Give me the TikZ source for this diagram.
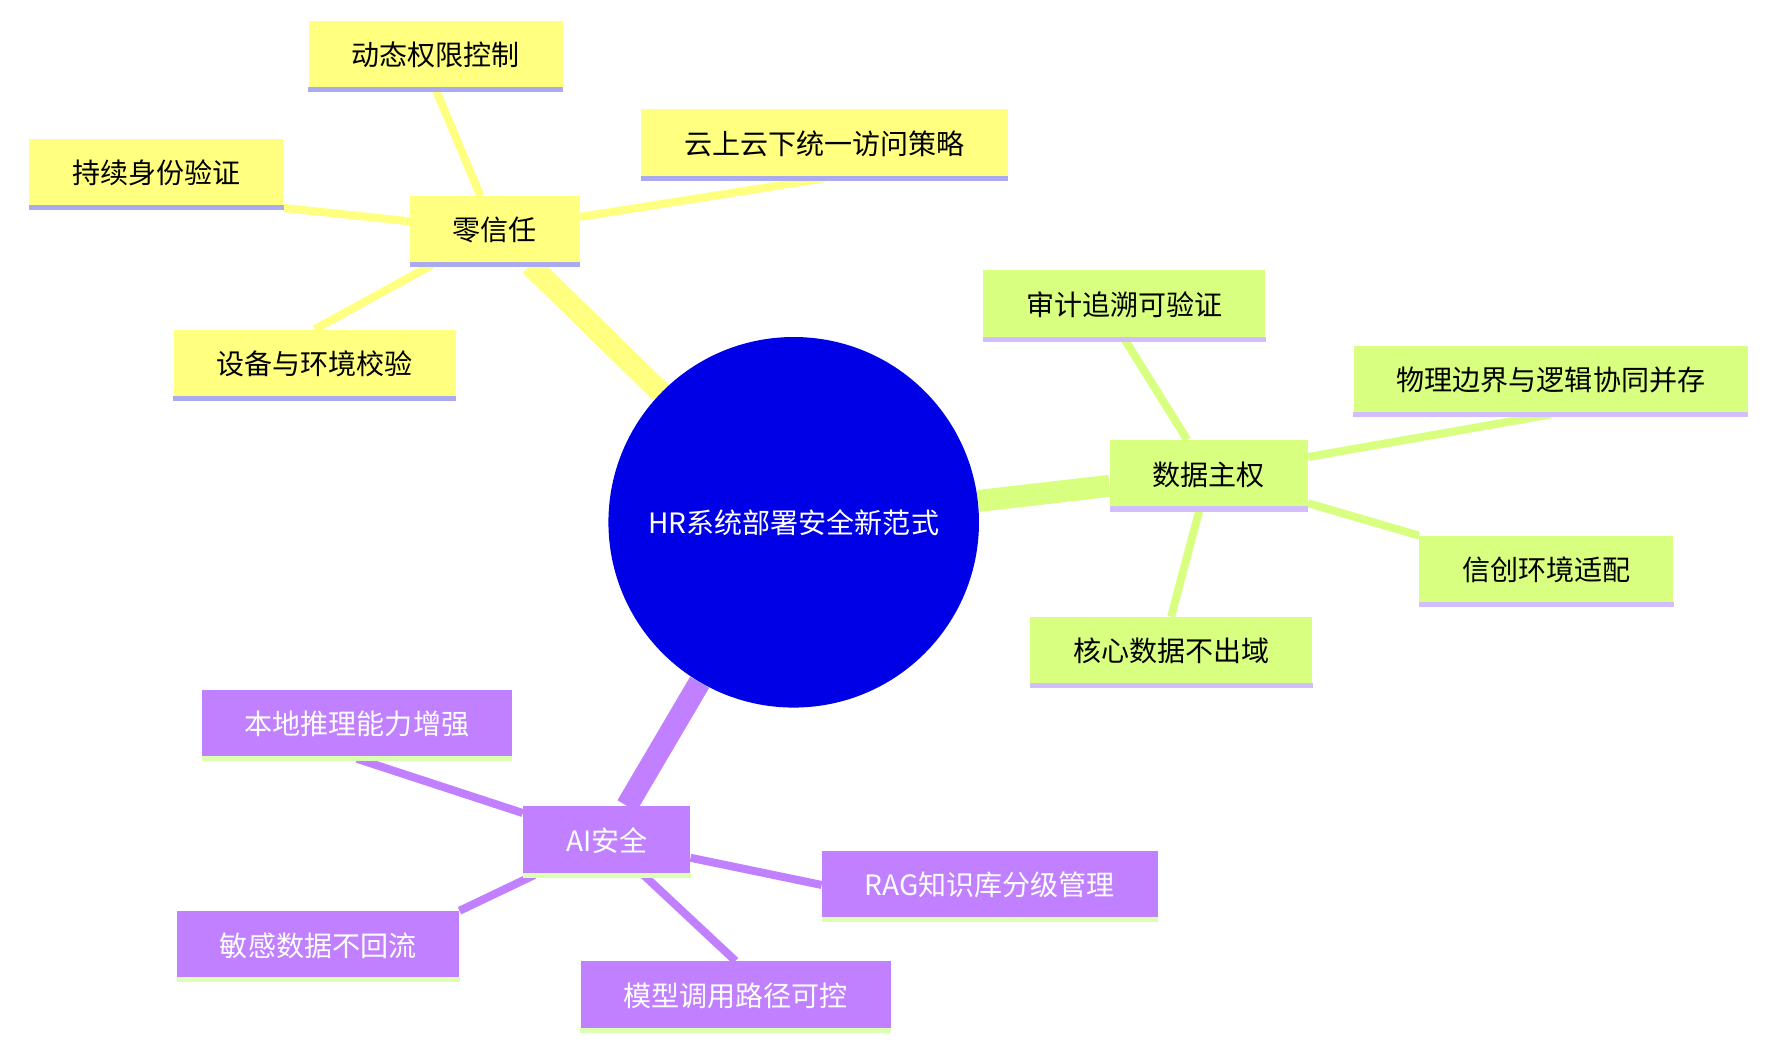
\documentclass[tikz,border=0pt]{standalone}
\usepackage{fontspec}
\setmainfont{Noto Sans CJK SC}
\usetikzlibrary{positioning, backgrounds}
\definecolor{zyellow}{RGB}{255,255,128}
\definecolor{zgreen}{RGB}{217,255,128}
\definecolor{zpurple}{RGB}{192,128,255}
\definecolor{zblue}{RGB}{0,0,230}
\definecolor{lblue}{RGB}{170,170,238}
\definecolor{llav}{RGB}{210,190,255}
\definecolor{lgrn}{RGB}{220,255,180}

\begin{document}
\begin{tikzpicture}[x=0.02cm, y=-0.02cm,
    every node/.style={font=\fontsize{14}{16}\selectfont},
    leaf/.style={rectangle, minimum height=1.2cm, inner xsep=0.75cm},
    yleaf/.style={leaf, fill=zyellow},
    gleaf/.style={leaf, fill=zgreen},
    pleaf/.style={leaf, fill=zpurple, text=white},
    yedge/.style={zyellow, line width=4pt},
    gedge/.style={zgreen, line width=4pt},
    pedge/.style={zpurple, line width=4pt}]
\useasboundingbox (0,0) rectangle (1560,915);
% centre
\node[circle, fill=zblue, text=white, minimum size=6.5cm, inner sep=0pt] (root) at (696,458) {HR系统部署安全新范式};
% zero trust
\node[yleaf] (zt) at (434,202) {零信任};
\node[yleaf] (zt1) at (382,48) {动态权限控制};
\node[yleaf] (zt2) at (723,126) {云上云下统一访问策略};
\node[yleaf] (zt3) at (137,152) {持续身份验证};
\node[yleaf] (zt4) at (276,319) {设备与环境校验};
% data sovereignty
\node[gleaf] (ds) at (1060,416) {数据主权};
\node[gleaf] (ds1) at (986,267) {审计追溯可验证};
\node[gleaf] (ds2) at (1360,333) {物理边界与逻辑协同并存};
\node[gleaf] (ds3) at (1356,500) {信创环境适配};
\node[gleaf] (ds4) at (1027,571) {核心数据不出域};
% AI
\node[pleaf] (ai) at (532,737) {AI安全};
\node[pleaf] (ai1) at (313,635) {本地推理能力增强};
\node[pleaf] (ai2) at (868,776) {RAG知识库分级管理};
\node[pleaf] (ai3) at (279,829) {敏感数据不回流};
\node[pleaf] (ai4) at (645,873) {模型调用路径可控};
% bottom borders
\foreach \n in {zt,zt1,zt2,zt3,zt4}
  \draw[lblue, line width=2.5pt] (\n.south west) -- (\n.south east);
\foreach \n in {ds,ds1,ds2,ds3,ds4}
  \draw[llav, line width=2.5pt] (\n.south west) -- (\n.south east);
\foreach \n in {ai,ai1,ai2,ai3,ai4}
  \draw[lgrn, line width=2.5pt] (\n.south west) -- (\n.south east);
\begin{scope}[on background layer]
\draw[yedge, line width=11pt] (root) -- (zt);
\draw[gedge, line width=11pt] (root) -- (ds);
\draw[pedge, line width=11pt] (root) -- (ai);
\draw[yedge] (zt) -- (zt1.south);
\draw[yedge] (zt) -- (zt2.south);
\draw[yedge] (zt) -- (zt3.south east);
\draw[yedge] (zt) -- (zt4.north);
\draw[gedge] (ds) -- (ds1.south);
\draw[gedge] (ds) -- (ds2.south);
\draw[gedge] (ds) -- (ds3.north west);
\draw[gedge] (ds) -- (ds4.north);
\draw[pedge] (ai) -- (ai1.south);
\draw[pedge] (ai) -- (ai2.west);
\draw[pedge] (ai) -- (ai3.north east);
\draw[pedge] (ai) -- (ai4.north);
\end{scope}
\end{tikzpicture}
\end{document}
